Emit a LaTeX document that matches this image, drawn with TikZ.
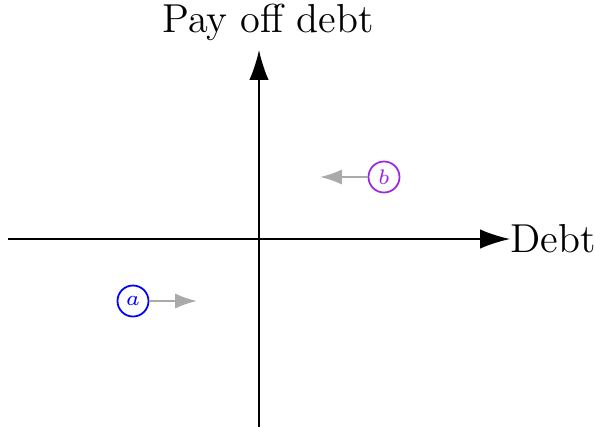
\documentclass[tikz,border=0pt]{standalone}
\usepackage{tikz}
\usetikzlibrary{arrows.meta, positioning}
\definecolor{agentblue}{RGB}{0,0,255}
\definecolor{agentpurple}{RGB}{155,40,230}
\definecolor{movegray}{RGB}{170,170,170}

\begin{document}
\begin{tikzpicture}[
    axis/.style={-{Latex[length=8.5pt, width=5.5pt]}, line width=0.45pt},
    agent/.style={circle, draw, line width=0.5pt, minimum size=0.31cm, inner sep=0pt, font=\fontsize{6.5}{7.5}\selectfont},
    move/.style={-{Latex[length=6.2pt, width=4.3pt]}, movegray, line width=0.6pt},
    label/.style={font=\fontsize{11.5}{14}\selectfont},
]
    \useasboundingbox (-2.59,-1.87) rectangle (3.36,2.39);

    % Axes
    \coordinate (xleft) at (-2.51,0);
    \coordinate (xright) at (2.51,0);
    \coordinate (ybottom) at (0,-1.9);
    \coordinate (ytop) at (0,1.89);
    \draw[axis] (xleft) -- (xright);
    \draw[axis] (ybottom) -- (ytop);
    \node[label, right=0pt of xright, inner sep=0pt] (debt) {Debt};
    \node[label, above=-1pt of ytop, xshift=0.09cm] (payoff) {Pay off debt};

    % Agents
    \node[agent, draw=agentblue, text=agentblue] (a) at (-1.26,-0.62) {$a$};
    \node[agent, draw=agentpurple, text=agentpurple] (b) at (1.25,0.62) {$b$};
    \coordinate (ato) at (-0.62,-0.62);
    \coordinate (bto) at (0.61,0.62);

    % Moves
    \draw[move] (a) -- (ato);
    \draw[move] (b) -- (bto);

\end{tikzpicture}
\end{document}
